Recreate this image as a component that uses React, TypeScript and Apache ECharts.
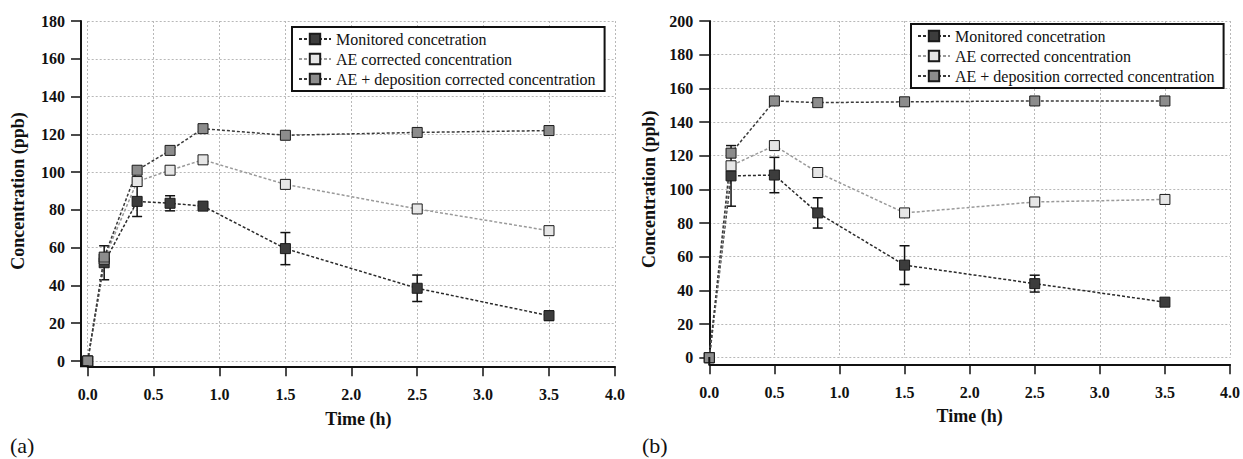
import React, { useEffect, useRef } from "react";
import * as echarts from "echarts";

const FONT = "'Liberation Serif', 'Times New Roman', serif";

const seriesNames = [
  "Monitored concetration",
  "AE corrected concentration",
  "AE + deposition corrected concentration",
];

// Panel (a)
const timeA = [0, 0.125, 0.375, 0.625, 0.875, 1.5, 2.5, 3.5];
const monitoredA = [0, 52, 84.5, 83.5, 82, 59.5, 38.5, 24];
const monitoredErrA = [0, 9, 8, 4, 2, 8.5, 7, 2.5];
const aeA = [0, 54, 95, 101, 106.5, 93.5, 80.5, 69];
const aeDepA = [0, 55, 101, 111.5, 123, 119.5, 121, 122];

// Panel (b)
const timeB = [0, 0.167, 0.5, 0.833, 1.5, 2.5, 3.5];
const monitoredB = [0, 108, 108.5, 86, 55, 44, 33];
const monitoredErrB = [0, 18, 10.5, 9, 11.5, 5, 0];
const aeB = [0, 114, 126, 110, 86, 92.5, 94];
const aeDepB = [0, 121.5, 152.5, 151.5, 152, 152.5, 152.5];

const xTicks = [0, 4, 0.5];
const yMaxA = 180;
const yMaxB = 200;
const yStep = 20;

const styles = [
  { fill: "#3c3c3c", line: "#2a2a2a" },
  { fill: "#e6e6e6", line: "#9a9a9a" },
  { fill: "#8c8c8c", line: "#3a3a3a" },
];

function lineSeries(name: string, xs: number[], ys: number[], idx: number, s: number) {
  return {
    type: "line",
    name,
    xAxisIndex: idx,
    yAxisIndex: idx,
    data: xs.map((x, i) => [x, ys[i]]),
    symbol: "rect",
    symbolSize: 10,
    z: 3,
    lineStyle: { color: styles[s].line, width: 1.5, type: [3, 2] },
    itemStyle: { color: styles[s].fill, borderColor: "#1a1a1a", borderWidth: 1 },
  };
}

function errSeries(xs: number[], ys: number[], es: number[], idx: number) {
  return {
    type: "custom",
    xAxisIndex: idx,
    yAxisIndex: idx,
    z: 2,
    silent: true,
    data: xs.map((x, i) => [x, ys[i] - es[i], ys[i] + es[i]]).filter((d) => d[2] > d[1]),
    encode: { x: 0, y: [1, 2] },
    renderItem: (_p: any, api: any) => {
      const x = api.value(0);
      const lo = api.coord([x, api.value(1)]);
      const hi = api.coord([x, api.value(2)]);
      const w = 5;
      const st = { stroke: "#111", lineWidth: 1.5 };
      return {
        type: "group",
        children: [
          { type: "line", shape: { x1: lo[0], y1: lo[1], x2: hi[0], y2: hi[1] }, style: st },
          { type: "line", shape: { x1: lo[0] - w, y1: lo[1], x2: lo[0] + w, y2: lo[1] }, style: st },
          { type: "line", shape: { x1: hi[0] - w, y1: hi[1], x2: hi[0] + w, y2: hi[1] }, style: st },
        ],
      };
    },
  };
}

const axisLabelStyle = { fontFamily: FONT, fontSize: 16, fontWeight: "bold", color: "#111" };
const splitLine = { show: true, lineStyle: { color: "#b8b8b8", type: [2, 2], width: 1 } };

function xAxis(idx: number, offset: number, nameGap: number, namePad: number) {
  return {
    type: "value",
    gridIndex: idx,
    min: xTicks[0],
    max: xTicks[1],
    interval: xTicks[2],
    offset,
    name: "Time (h)",
    nameLocation: "middle",
    nameGap,
    nameTextStyle: { fontFamily: FONT, fontSize: 18, fontWeight: "bold", color: "#111", padding: [0, 0, 0, namePad] },
    axisLine: { show: true, onZero: false, lineStyle: { color: "#111", width: 2 } },
    axisTick: { show: true, length: 10, lineStyle: { color: "#111", width: 1.5 } },
    axisLabel: { ...axisLabelStyle, margin: 20, formatter: (v: number) => v.toFixed(1) },
    splitLine,
  };
}

function yAxis(idx: number, max: number, offset: number, nameGap: number) {
  return {
    type: "value",
    gridIndex: idx,
    min: 0,
    max,
    interval: yStep,
    offset,
    name: "Concentration (ppb)",
    nameLocation: "middle",
    nameGap,
    nameTextStyle: { fontFamily: FONT, fontSize: 18, fontWeight: "bold", color: "#111" },
    axisLine: { show: true, onZero: false, lineStyle: { color: "#111", width: 2 } },
    axisTick: { show: true, length: 10, lineStyle: { color: "#111", width: 1.5 } },
    axisLabel: { ...axisLabelStyle, margin: 16 },
    splitLine,
  };
}

function legend(left: number, top: number) {
  return {
    left,
    top,
    orient: "vertical",
    itemWidth: 32,
    itemHeight: 13,
    itemGap: 4,
    padding: [4, 9, 4, 6],
    borderColor: "#111",
    borderWidth: 2,
    borderRadius: 0,
    backgroundColor: "#fff",
    selectedMode: false,
    textStyle: { fontFamily: FONT, fontSize: 16, color: "#111" },
    data: seriesNames,
  };
}

export default function App() {
  const ref = useRef<HTMLDivElement>(null);
  useEffect(() => {
    if (!ref.current) return;
    const chart = echarts.init(ref.current, null, { renderer: "svg" });
    chart.setOption({
      animation: false,
      backgroundColor: "#fff",
      grid: [
        { left: 87.7, top: 21, width: 527.2, height: 340 },
        { left: 709.3, top: 21, width: 521.7, height: 336.7 },
      ],
      xAxis: [xAxis(0, 5.3, 44, 14), xAxis(1, 6.6, 43, 0)],
      yAxis: [yAxis(0, yMaxA, 6.7, 54), yAxis(1, yMaxB, 0, 51)],
      legend: [legend(292, 27), legend(911, 24)],
      series: [
        errSeries(timeA, monitoredA, monitoredErrA, 0),
        lineSeries(seriesNames[0], timeA, monitoredA, 0, 0),
        lineSeries(seriesNames[1], timeA, aeA, 0, 1),
        lineSeries(seriesNames[2], timeA, aeDepA, 0, 2),
        errSeries(timeB, monitoredB, monitoredErrB, 1),
        lineSeries(seriesNames[0], timeB, monitoredB, 1, 0),
        lineSeries(seriesNames[1], timeB, aeB, 1, 1),
        lineSeries(seriesNames[2], timeB, aeDepB, 1, 2),
      ],
      graphic: [
        {
          type: "polyline",
          shape: { points: [[81, 360], [81, 366.3], [88.7, 366.3]] },
          style: { stroke: "#111", lineWidth: 2, fill: null },
          z: 10,
        },
        {
          type: "line",
          shape: { x1: 709.3, y1: 357, x2: 709.3, y2: 365 },
          style: { stroke: "#111", lineWidth: 2 },
          z: 10,
        },
        {
          type: "text",
          left: 10,
          top: 434,
          style: { text: "(a)", font: `22px ${FONT}`, fill: "#111" },
        },
        {
          type: "text",
          left: 642,
          top: 434,
          style: { text: "(b)", font: `22px ${FONT}`, fill: "#111" },
        },
      ],
    });
    return () => chart.dispose();
  }, []);
  return (
    <div
      ref={ref}
      style={{ position: "absolute", left: 0, top: 0, width: 1243, height: 459 }}
    />
  );
}
